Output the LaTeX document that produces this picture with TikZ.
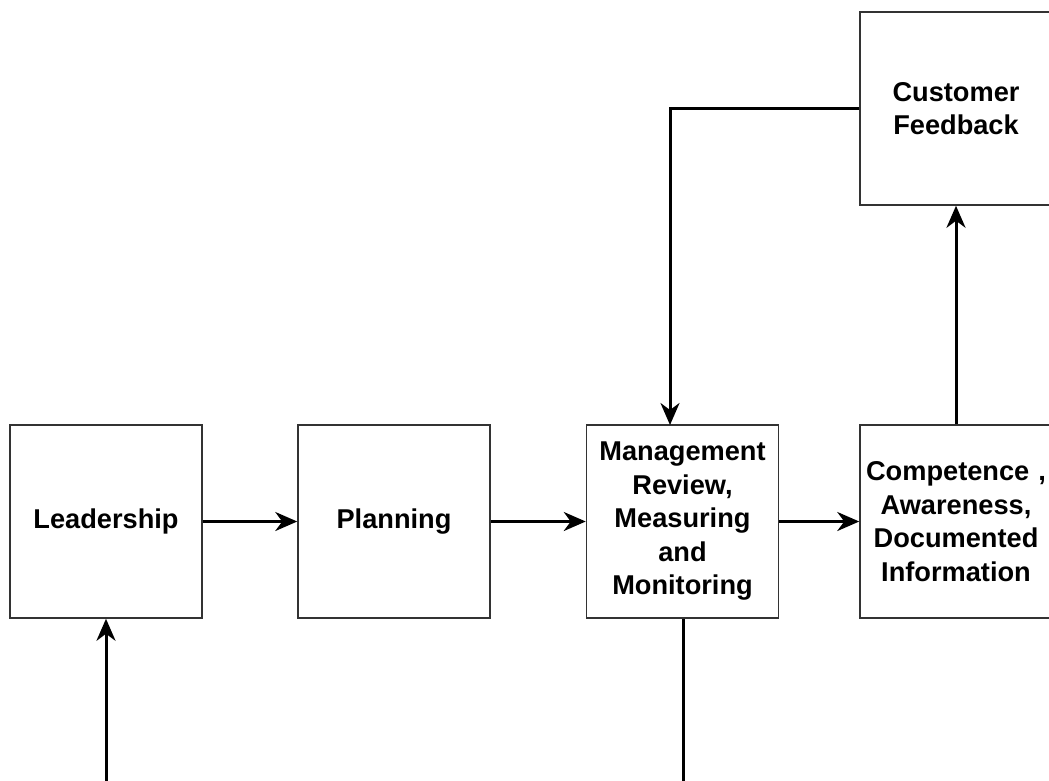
\documentclass[tikz,border=0pt]{standalone}
\usepackage{fontspec}
\setmainfont{Liberation Sans}
\usetikzlibrary{arrows.meta}
\begin{document}
\begin{tikzpicture}[x=1pt,y=-1pt,
  box/.style={draw=black!80, line width=1.5pt, fill=white, minimum width=192pt, minimum height=193pt,
    inner sep=0pt, align=center, text width=188pt, font=\bfseries\fontsize{27.2}{33.5}\selectfont},
  conn/.style={line width=3pt, -{Stealth[length=22pt,width=19pt,inset=7pt]}},
  plain/.style={line width=3pt}]
\useasboundingbox (0,0) rectangle (1049,780);
\clip (0,0) rectangle (1049,780);
\fill[white] (0,0) rectangle (1049,780);
\node[box] (lead) at (106,521.5) {Leadership};
\node[box] (plan) at (394,521.5) {Planning};
\node[box] (mgmt) at (682.5,521.5) {Management\\Review,\\Measuring\\and\\Monitoring};
\node[box] (comp) at (956,521.5) {Competence ,\\Awareness,\\Documented\\Information};
\node[box] (cust) at (956,108.5) {Customer\\Feedback};
\coordinate (leadin) at (106,782);
\coordinate (mgmtout) at (683,782);
\coordinate (mgmtin) at (670,425);
\draw[conn] (lead.east) -- (plan.west);
\draw[conn] (plan.east) -- (mgmt.west);
\draw[conn] (mgmt.east) -- (comp.west);
\draw[conn] (comp.north) -- (cust.south);
\draw[conn] (cust.west) -| (mgmtin);
\draw[plain] (mgmt.south -| mgmtout) -- (mgmtout);
\draw[conn] (leadin) -- (lead.south);
\end{tikzpicture}
\end{document}
